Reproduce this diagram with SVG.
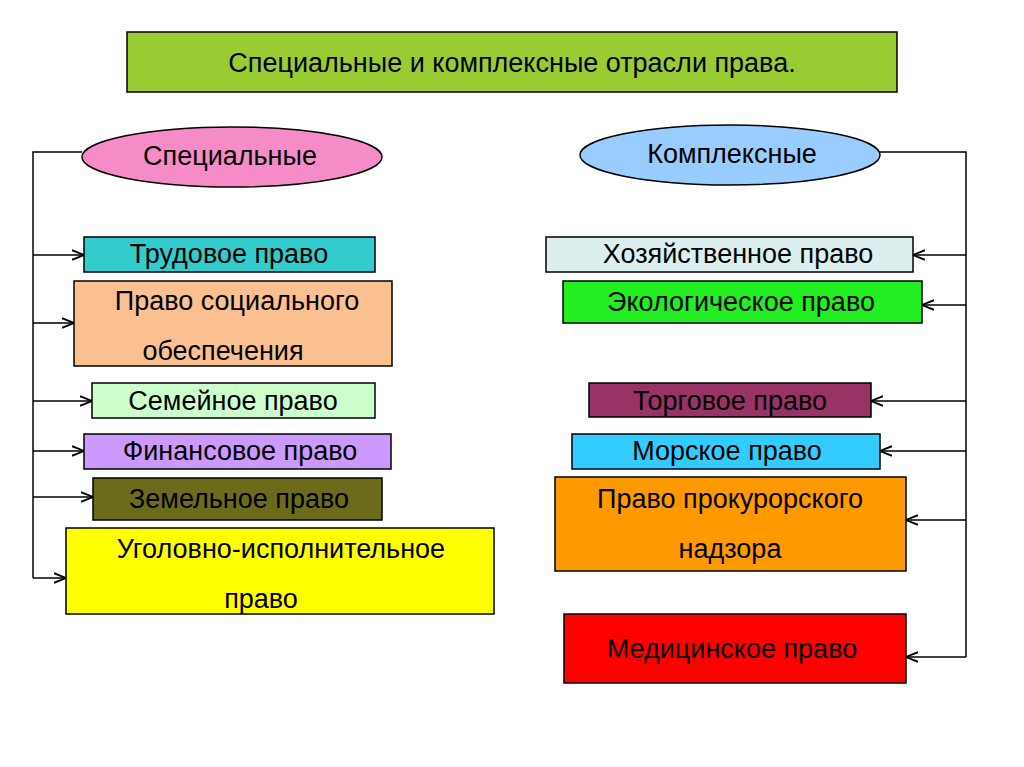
<svg xmlns="http://www.w3.org/2000/svg" width="1024" height="767" viewBox="0 0 1024 767">
<defs><marker id="a" viewBox="0 0 10 10" refX="10" refY="5" markerWidth="8" markerHeight="8" orient="auto"><path d="M0,1 L10,5 L0,9" fill="none" stroke="#000" stroke-width="1.5"/></marker></defs>
<style>
rect,ellipse{stroke:#000;stroke-width:1.5}
text{font-family:"Liberation Sans",Arial,sans-serif;font-size:27px;fill:#000;text-anchor:middle}
.c{stroke:#000;stroke-width:1.5;fill:none}
</style>
<rect width="1024" height="767" fill="#fff" style="stroke:none"/>
<g id="title"><rect x="127" y="32" width="770" height="60" fill="#99cc33"/><text x="512" y="72" font-size="26">Специальные и комплексные отрасли права.</text></g>
<g id="connectors">
<polyline class="c" points="82,152 33,152 33,578"/>
<polyline class="c" points="880,152 966,152 966,657"/>
<line class="c" x1="33" y1="255" x2="84" y2="255" marker-end="url(#a)"/>
<line class="c" x1="33" y1="323" x2="74" y2="323" marker-end="url(#a)"/>
<line class="c" x1="33" y1="401" x2="92" y2="401" marker-end="url(#a)"/>
<line class="c" x1="33" y1="451" x2="84" y2="451" marker-end="url(#a)"/>
<line class="c" x1="33" y1="497" x2="93" y2="497" marker-end="url(#a)"/>
<line class="c" x1="33" y1="578" x2="66" y2="578" marker-end="url(#a)"/>
<line class="c" x1="966" y1="255" x2="913" y2="255" marker-end="url(#a)"/>
<line class="c" x1="966" y1="305" x2="922" y2="305" marker-end="url(#a)"/>
<line class="c" x1="966" y1="401" x2="871" y2="401" marker-end="url(#a)"/>
<line class="c" x1="966" y1="451" x2="880" y2="451" marker-end="url(#a)"/>
<line class="c" x1="966" y1="520" x2="906" y2="520" marker-end="url(#a)"/>
<line class="c" x1="966" y1="657" x2="906" y2="657" marker-end="url(#a)"/>
</g>
<g id="spec"><ellipse cx="232" cy="157" rx="150" ry="30" fill="#f58cc8"/><text x="230" y="165">Специальные</text></g>
<g id="kompl"><ellipse cx="730" cy="155" rx="150" ry="30" fill="#99ccff"/><text x="732" y="163">Комплексные</text></g>
<g id="n1"><rect x="84" y="237" width="291" height="35" fill="#33cccc"/><text x="229" y="263">Трудовое право</text></g>
<g id="n2"><rect x="74" y="281" width="318" height="85" fill="#fac090"/><text x="237" y="310">Право социального</text><text x="223" y="360">обеспечения</text></g>
<g id="n3"><rect x="92" y="383" width="283" height="35" fill="#ccffcc"/><text x="233" y="410">Семейное право</text></g>
<g id="n4"><rect x="84" y="434" width="307" height="35" fill="#cc99ff"/><text x="240" y="460">Финансовое право</text></g>
<g id="n5"><rect x="93" y="478" width="289" height="42" fill="#6b6b1a"/><text x="239" y="508">Земельное право</text></g>
<g id="n6"><rect x="66" y="528" width="428" height="86" fill="#ffff00"/><text x="281" y="558">Уголовно-исполнительное</text><text x="261" y="608">право</text></g>
<g id="m1"><rect x="546" y="237" width="367" height="35" fill="#ddeeee"/><text x="738" y="263">Хозяйственное право</text></g>
<g id="m2"><rect x="563" y="281" width="359" height="42" fill="#22ee22"/><text x="741" y="311">Экологическое право</text></g>
<g id="m3"><rect x="589" y="383" width="282" height="34" fill="#993366"/><text x="730" y="410">Торговое право</text></g>
<g id="m4"><rect x="572" y="434" width="308" height="35" fill="#33ccff"/><text x="727" y="460">Морское право</text></g>
<g id="m5"><rect x="555" y="477" width="351" height="94" fill="#ff9900"/><text x="730" y="508">Право прокурорского</text><text x="730" y="558">надзора</text></g>
<g id="m6"><rect x="564" y="614" width="342" height="69" fill="#ff0000"/><text x="732" y="658">Медицинское право</text></g>
</svg>
